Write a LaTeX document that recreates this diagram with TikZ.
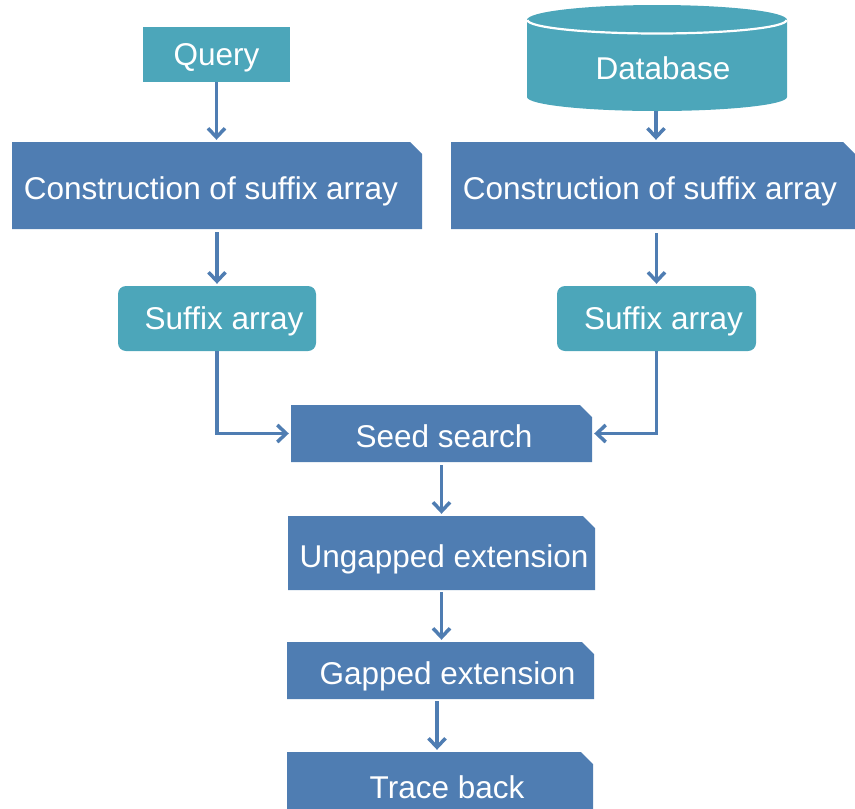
\documentclass[tikz,border=0pt]{standalone}
\usepackage{fontspec}
\setmainfont{Liberation Sans}
\usetikzlibrary{arrows.meta}
\definecolor{bbox}{HTML}{4F7DB2}
\definecolor{tbox}{HTML}{4CA6BA}
\begin{document}
\begin{tikzpicture}[x=1pt,y=-1pt,
  lbl/.style={text=white,font=\fontsize{31.5}{36}\selectfont,inner sep=0pt,text height=22.5pt,text depth=0pt},
  cutbox/.style={lbl,text height=28.5pt,rectangle,path picture={\fill[bbox]
      (path picture bounding box.south west) -- (path picture bounding box.north west)
      -- ([xshift=-12pt]path picture bounding box.north east)
      -- ([yshift=-12pt]path picture bounding box.north east)
      -- (path picture bounding box.south east) -- cycle;}},
  tealbox/.style={lbl,rectangle,fill=tbox},
  roundbox/.style={lbl,rectangle,fill=tbox,rounded corners=8pt},
  arr/.style={draw=bbox,line width=3.5pt,shorten >=2pt,
    -{Straight Barb[length=9pt,width=17pt,line width=3.5pt]}}
]
\useasboundingbox (0,0) rectangle (855,809);

% Query
\node[tealbox,minimum width=147pt,minimum height=55pt] (q) at (216.5,54.5) {Query};

% Database cylinder
\fill[tbox] (527,20) -- (527,97) arc[start angle=180,end angle=0,x radius=130,y radius=14]
  -- (787,20) arc[start angle=0,end angle=-180,x radius=130,y radius=15] -- cycle;
\draw[white,line width=2.2pt] (527.5,20) arc[start angle=180,end angle=0,x radius=129.5,y radius=13.5];
\node[lbl] (db) at (663,68) {Database};
\coordinate (dbb) at (656,111);

% Construction boxes
\node[cutbox,minimum width=410pt,minimum height=87pt] (cl) at (217,185.5) {\hspace*{-12pt}Construction of suffix array};
\node[cutbox,minimum width=404pt,minimum height=87pt] (cr) at (653,185.5) {\hspace*{-6pt}Construction of suffix array};

% Suffix arrays
\node[roundbox,minimum width=198pt,minimum height=65pt] (sl) at (217,318.5) {\hspace*{14pt}Suffix array};
\node[roundbox,minimum width=199pt,minimum height=65pt] (sr) at (656.5,318.5) {\hspace*{14pt}Suffix array};

% Pipeline
\node[cutbox,minimum width=301pt,minimum height=57pt] (seed) at (441.5,433.5) {\hspace*{5pt}Seed search};
\node[cutbox,minimum width=307pt,minimum height=74pt] (ung) at (441.5,553) {\hspace*{5pt}Ungapped extension};
\node[cutbox,minimum width=307pt,minimum height=57pt] (gap) at (440.5,670.5) {\hspace*{14pt}Gapped extension};
\node[cutbox,minimum width=306pt,minimum height=64pt] (tr) at (440,784) {\hspace*{14pt}Trace back};

% Connectors
\draw[arr] (q.south) -- (q.south |- cl.north);
\draw[arr] (dbb) -- (dbb |- cr.north);
\draw[arr] ([yshift=-3pt]cl.south) -- (sl.north);
\draw[arr] ([yshift=-4pt]cr.south -| sr.north) -- (sr.north);
\draw[arr] (sl.south) |- (seed.west);
\draw[arr] (sr.south) |- (seed.east);
\draw[arr] ([yshift=-3pt]seed.south) -- (ung.north);
\draw[arr] ([yshift=-2pt]ung.south) -- (ung.south |- gap.north);
\draw[arr] ([xshift=-3.5pt,yshift=-2pt]gap.south) -- ([xshift=-3.5pt]gap.south |- tr.north);
\end{tikzpicture}
\end{document}
